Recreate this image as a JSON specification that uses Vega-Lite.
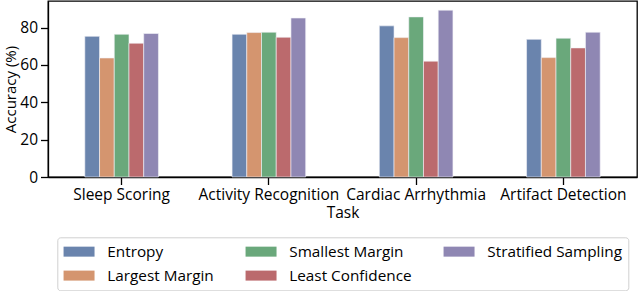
{
  "$schema": "https://vega.github.io/schema/vega-lite/v6.json",
  "width": 589,
  "height": 176,
  "autosize": {"type": "none"},
  "padding": {"left": 48, "top": 1, "right": 3, "bottom": 114},
  "background": "white",
  "config": {
    "view": {"stroke": "black", "strokeWidth": 1.3},
    "font": "Open Sans",
    "axis": {
      "labelFont": "Open Sans", "titleFont": "Open Sans",
      "labelFontSize": 15.5, "titleFontSize": 15.5,
      "labelColor": "black", "titleColor": "black",
      "titleFontWeight": "normal",
      "domainColor": "black", "domainWidth": 1.3,
      "tickColor": "black", "tickWidth": 1.3, "tickSize": 7.5,
      "labelPadding": 3, "grid": false
    },
    "legend": {"labelFont": "Open Sans", "labelFontSize": 15.3, "labelColor": "black"}
  },
  "data": {
    "values": [
      {"task": "Sleep Scoring", "method": "Entropy", "acc": 75.3},
      {"task": "Sleep Scoring", "method": "Largest Margin", "acc": 63.7},
      {"task": "Sleep Scoring", "method": "Smallest Margin", "acc": 76.4},
      {"task": "Sleep Scoring", "method": "Least Confidence", "acc": 71.6},
      {"task": "Sleep Scoring", "method": "Stratified Sampling", "acc": 76.8},
      {"task": "Activity Recognition", "method": "Entropy", "acc": 76.4},
      {"task": "Activity Recognition", "method": "Largest Margin", "acc": 77.3},
      {"task": "Activity Recognition", "method": "Smallest Margin", "acc": 77.5},
      {"task": "Activity Recognition", "method": "Least Confidence", "acc": 74.8},
      {"task": "Activity Recognition", "method": "Stratified Sampling", "acc": 85.1},
      {"task": "Cardiac Arrhythmia", "method": "Entropy", "acc": 80.9},
      {"task": "Cardiac Arrhythmia", "method": "Largest Margin", "acc": 74.6},
      {"task": "Cardiac Arrhythmia", "method": "Smallest Margin", "acc": 85.7},
      {"task": "Cardiac Arrhythmia", "method": "Least Confidence", "acc": 62.0},
      {"task": "Cardiac Arrhythmia", "method": "Stratified Sampling", "acc": 89.3},
      {"task": "Artifact Detection", "method": "Entropy", "acc": 73.7},
      {"task": "Artifact Detection", "method": "Largest Margin", "acc": 63.9},
      {"task": "Artifact Detection", "method": "Smallest Margin", "acc": 74.3},
      {"task": "Artifact Detection", "method": "Least Confidence", "acc": 69.1},
      {"task": "Artifact Detection", "method": "Stratified Sampling", "acc": 77.5}
    ]
  },
  "mark": {"type": "bar", "stroke": "#f4f4f8", "strokeWidth": 0.6},
  "encoding": {
    "x": {
      "field": "task", "type": "nominal",
      "sort": ["Sleep Scoring", "Activity Recognition", "Cardiac Arrhythmia", "Artifact Detection"],
      "scale": {"paddingInner": 0.5, "paddingOuter": 0.25},
      "axis": {"title": "Task", "labelAngle": 0, "titlePadding": 2}
    },
    "xOffset": {
      "field": "method", "type": "nominal",
      "sort": ["Entropy", "Largest Margin", "Smallest Margin", "Least Confidence", "Stratified Sampling"],
      "scale": {"paddingInner": 0, "paddingOuter": 0}
    },
    "y": {
      "field": "acc", "type": "quantitative",
      "scale": {"domain": [0, 94.2], "nice": false},
      "axis": {
        "title": "Accuracy (%)", "values": [0, 20, 40, 60, 80],
        "titleX": -38, "titleY": 88, "titleAngle": 270, "titleFontSize": 15,
        "titleAlign": "center", "titleBaseline": "middle"
      }
    },
    "color": {
      "field": "method", "type": "nominal",
      "scale": {
        "domain": ["Entropy", "Largest Margin", "Smallest Margin", "Least Confidence", "Stratified Sampling"],
        "range": ["#6a84ad", "#d4956f", "#6aa87b", "#bb6a6d", "#8f87b3"]
      },
      "legend": {
        "title": null, "orient": "none", "legendX": 9.3, "legendY": 236.3,
        "columns": 3, "columnPadding": 31, "rowPadding": 7.3,
        "symbolType": "M-1,-0.645H3V0.645H-1Z", "symbolSize": 240, "symbolStrokeWidth": 0, "symbolOpacity": 1,
        "labelOffset": 28, "padding": 6,
        "strokeColor": "#d0d0d0", "fillColor": "white", "cornerRadius": 3
      }
    }
  }
}
